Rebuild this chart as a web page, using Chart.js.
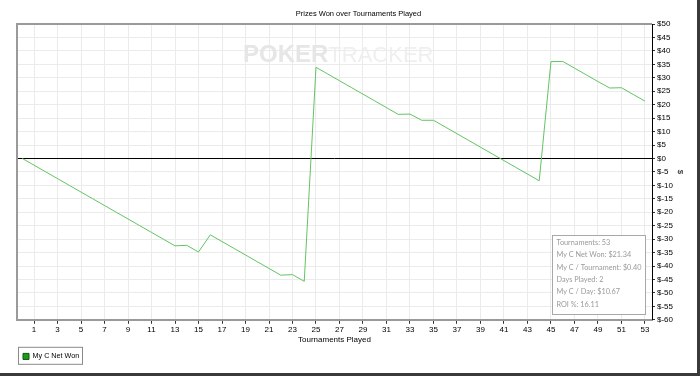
<!DOCTYPE html>
<html>
<head>
<meta charset="utf-8">
<script src="https://cdn.jsdelivr.net/npm/chart.js@4"></script>
<style>
  html, body { margin: 0; padding: 0; background: #fff; }
  #wrap { width: 700px; height: 376px; position: relative; }
</style>
</head>
<body>
<div id="wrap"><canvas id="prizesChart"></canvas></div>
<script>
const tournaments = [0, 1, 2, 3, 4, 5, 6, 7, 8, 9, 10, 11, 12, 13, 14, 15, 16, 17, 18, 19, 20,
    21, 22, 23, 24, 25, 26, 27, 28, 29, 30, 31, 32, 33, 34, 35, 36, 37, 38, 39, 40,
    41, 42, 43, 44, 45, 46, 47, 48, 49, 50, 51, 52, 53];
const netWon = [0, -2.5, -5, -7.5, -10, -12.5, -15, -17.5, -20, -22.5, -25, -27.5, -30, -32.5,
    -32.3, -34.8, -28.4, -30.9, -33.4, -35.9, -38.4, -40.9, -43.4, -43.2, -45.7,
    33.9, 31.4, 28.9, 26.4, 23.9, 21.4, 18.9, 16.4, 16.5, 14.2, 14.2, 11.7, 9.2, 6.7, 4.2, 1.7,
    -0.8, -3.3, -5.8, -8.3, 36.0, 36.1, 33.6, 31.1, 28.6, 26.2, 26.3, 23.8, 21.34];
const xTickValues = [1, 3, 5, 7, 9, 11, 13, 15, 17, 19, 21, 23, 25, 27, 29, 31, 33, 35, 37, 39,
    41, 43, 45, 47, 49, 51, 53];
const statsLines = [
    'Tournaments: 53',
    'My C Net Won: $21.34',
    'My C / Tournament: $0.40',
    'Days Played: 2',
    'My C / Day: $10.67',
    'ROI %: 16.11'
];

const points = tournaments.map((t, i) => ({ x: t, y: netWon[i] }));
const FONT = '"Liberation Sans", Arial, sans-serif';

const extras = {
    id: 'extras',
    beforeDatasetsDraw(chart) {
        const ctx = chart.ctx;
        ctx.save();
        ctx.textBaseline = 'alphabetic';
        ctx.font = 'bold 24px ' + FONT;
        ctx.fillStyle = '#e6e6e6';
        ctx.fillText('POKER', 243, 62);
        const w = ctx.measureText('POKER').width;
        ctx.font = '22px ' + FONT;
        ctx.fillStyle = '#efefef';
        ctx.fillText('TRACKER', 243 + w, 62);
        ctx.restore();
    },
    afterDraw(chart) {
        const ctx = chart.ctx;
        const a = chart.chartArea;
        ctx.save();
        // left and top frame of the plot area
        ctx.strokeStyle = '#9a9a9a';
        ctx.lineWidth = 2;
        ctx.beginPath();
        ctx.moveTo(a.left, a.bottom);
        ctx.lineTo(a.left, a.top);
        ctx.lineTo(a.right, a.top);
        ctx.stroke();

        // stats box
        const bx = 552.5, by = 235.5, bw = 93, bh = 79;
        ctx.fillStyle = '#ffffff';
        ctx.fillRect(bx, by, bw, bh);
        ctx.strokeStyle = '#a8a8a8';
        ctx.lineWidth = 1;
        ctx.strokeRect(bx, by, bw, bh);
        ctx.fillStyle = '#9a9a9a';
        ctx.font = '7.3px Lato, "Open Sans", sans-serif';
        ctx.textBaseline = 'middle';
        statsLines.forEach((s, i) => ctx.fillText(s, bx + 4, by + 7 + i * 12.4));

        // legend frame
        const lg = chart.legend;
        if (lg && lg.legendHitBoxes && lg.legendHitBoxes.length) {
            const hb = lg.legendHitBoxes[0];
            ctx.strokeStyle = '#8a8a8a';
            ctx.strokeRect(18.5, hb.top - 5.5, 64, 17);
        }

        // outer frame (right and bottom edges)
        ctx.fillStyle = '#3a3a3a';
        ctx.fillRect(697, 0, 3, 376);
        ctx.fillRect(0, 373, 700, 3);
        ctx.restore();
    }
};

new Chart(document.getElementById('prizesChart'), {
    type: 'line',
    data: {
        datasets: [{
            label: 'My C Net Won',
            data: points,
            borderColor: '#62c462',
            backgroundColor: '#1f9a1f',
            borderWidth: 1,
            pointRadius: 0,
            tension: 0
        }]
    },
    options: {
        responsive: true,
        maintainAspectRatio: false,
        animation: false,
        layout: { padding: { left: 17, right: 0, top: 1, bottom: 6 } },
        scales: {
            x: {
                type: 'linear',
                min: -0.45,
                max: 53.6,
                afterBuildTicks: s => { s.ticks = xTickValues.map(v => ({ value: v })); },
                afterFit: s => { s.height = 27; },
                ticks: {
                    font: { family: FONT, size: 8 },
                    color: '#000',
                    autoSkip: false,
                    maxRotation: 0,
                    padding: 1
                },
                grid: { color: '#ebebeb', tickColor: '#333', tickLength: 4 },
                border: { color: '#9a9a9a', width: 2 },
                title: {
                    display: true,
                    text: 'Tournaments Played',
                    font: { family: FONT, size: 8 },
                    color: '#000',
                    padding: { top: 0, bottom: 2 }
                }
            },
            y: {
                position: 'right',
                min: -60,
                max: 50,
                afterFit: s => { s.width = 48; },
                ticks: {
                    stepSize: 5,
                    font: { family: FONT, size: 8 },
                    color: '#000',
                    padding: 2,
                    callback: v => '$' + v
                },
                grid: {
                    color: c => (c.tick && c.tick.value === 0 ? '#000' : '#ebebeb'),
                    tickColor: '#333',
                    tickLength: 3
                },
                border: { color: '#000', width: 1 },
                title: {
                    display: true,
                    text: '$',
                    font: { family: FONT, size: 8 },
                    color: '#000',
                    padding: 15
                }
            }
        },
        plugins: {
            title: {
                display: true,
                text: 'Prizes Won over Tournaments Played',
                font: { family: FONT, size: 7.5, weight: 'normal' },
                color: '#000',
                padding: { top: 8, bottom: 6 }
            },
            legend: {
                position: 'bottom',
                align: 'start',
                labels: {
                    boxWidth: 6,
                    boxHeight: 6,
                    padding: 6,
                    font: { family: FONT, size: 7.2 },
                    color: '#000',
                    generateLabels: chart => chart.data.datasets.map((d, i) => ({
                        text: d.label,
                        fillStyle: d.backgroundColor,
                        strokeStyle: '#0a5a0a',
                        lineWidth: 1,
                        datasetIndex: i
                    }))
                }
            },
            tooltip: { enabled: false }
        }
    },
    plugins: [extras]
});
</script>
</body>
</html>
